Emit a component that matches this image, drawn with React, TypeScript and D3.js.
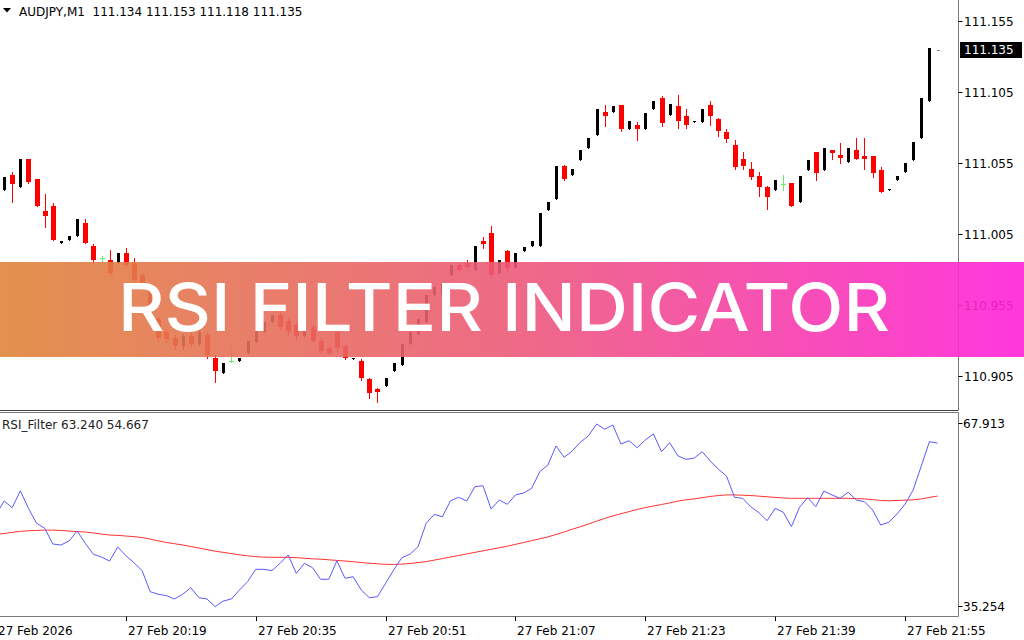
import React from "react";
import * as d3 from "d3";

// ---------- DATA ----------
const symbolHeader = "AUDJPY,M1  111.134 111.153 111.118 111.135";
const indicatorHeader = "RSI_Filter 63.240 54.667";
const currentPrice = 111.135;

// one-minute bars, 20:03 .. 21:59
const barTimes: string[] = d3
  .timeMinute.range(new Date(2026, 1, 27, 20, 3), new Date(2026, 1, 27, 22, 0))
  .map((d) => d3.timeFormat("%H:%M")(d));

const open = [
  111.040,
  111.036, 111.047, 111.038, 111.058, 111.044, 111.021, 111.025, 110.999, 111.001, 111.004,
  111.013, 110.997, 110.988, 110.987, 110.985, 110.992, 110.985, 110.976, 110.969, 110.945,
  110.936, 110.932, 110.926, 110.933, 110.928, 110.934, 110.918, 110.907, 110.916, 110.916,
  110.921, 110.929, 110.936, 110.943, 110.948, 110.944, 110.941, 110.933, 110.940, 110.930,
  110.925, 110.936, 110.926, 110.917, 110.916, 110.903, 110.896, 110.898, 110.909, 110.913,
  110.928, 110.935, 110.943, 110.962, 110.962, 110.976, 110.983, 110.985, 110.980, 111.000,
  111.006, 110.978, 110.993, 110.981, 110.993, 110.997, 110.997, 111.022, 111.030, 111.053,
  111.047, 111.057, 111.066, 111.075, 111.091, 111.091, 111.096, 111.079, 111.082, 111.079,
  111.093, 111.101, 111.089, 111.095, 111.088, 111.084, 111.084, 111.096, 111.086, 111.077,
  111.068, 111.058, 111.051, 111.046, 111.038, 111.036, 111.040, 111.041, 111.028, 111.050,
  111.063, 111.050, 111.064, 111.061, 111.056, 111.064, 111.060, 111.060, 111.050, 111.036,
  111.043, 111.049, 111.057, 111.073, 111.099, 111.134,
];
const high = [
  111.042,
  111.045, 111.049, 111.058, 111.058, 111.044, 111.033, 111.027, 111.000, 111.004, 111.016,
  111.016, 110.998, 110.990, 110.994, 110.992, 110.995, 110.988, 110.978, 110.970, 110.947,
  110.938, 110.934, 110.935, 110.936, 110.938, 110.936, 110.920, 110.914, 110.925, 110.918,
  110.930, 110.937, 110.943, 110.948, 110.950, 110.946, 110.943, 110.940, 110.941, 110.932,
  110.927, 110.938, 110.928, 110.918, 110.917, 110.904, 110.897, 110.904, 110.914, 110.928,
  110.936, 110.945, 110.962, 110.968, 110.970, 110.983, 110.985, 110.987, 110.997, 111.003,
  111.011, 110.987, 110.994, 110.992, 110.996, 111.000, 111.020, 111.028, 111.053, 111.054,
  111.051, 111.064, 111.073, 111.093, 111.096, 111.095, 111.096, 111.085, 111.084, 111.090,
  111.099, 111.102, 111.097, 111.103, 111.093, 111.085, 111.093, 111.099, 111.087, 111.079,
  111.071, 111.063, 111.056, 111.049, 111.039, 111.043, 111.047, 111.041, 111.046, 111.057,
  111.063, 111.066, 111.064, 111.069, 111.066, 111.073, 111.073, 111.060, 111.052, 111.037,
  111.046, 111.055, 111.070, 111.101, 111.136, 111.135,
];
const low = [
  111.034,
  111.036, 111.028, 111.038, 111.041, 111.025, 111.010, 111.001, 110.999, 111.001, 111.004,
  110.999, 110.985, 110.986, 110.976, 110.985, 110.982, 110.971, 110.967, 110.950, 110.930,
  110.929, 110.924, 110.924, 110.926, 110.927, 110.918, 110.901, 110.907, 110.915, 110.916,
  110.921, 110.929, 110.936, 110.943, 110.938, 110.935, 110.931, 110.933, 110.929, 110.921,
  110.920, 110.923, 110.917, 110.917, 110.902, 110.890, 110.887, 110.898, 110.909, 110.913,
  110.928, 110.935, 110.943, 110.962, 110.962, 110.976, 110.979, 110.981, 110.980, 110.995,
  110.975, 110.978, 110.979, 110.981, 110.993, 110.997, 110.997, 111.022, 111.030, 111.043,
  111.047, 111.057, 111.066, 111.075, 111.081, 111.091, 111.078, 111.079, 111.071, 111.079,
  111.093, 111.081, 111.089, 111.080, 111.080, 111.084, 111.084, 111.082, 111.074, 111.070,
  111.051, 111.051, 111.044, 111.032, 111.023, 111.036, 111.036, 111.025, 111.028, 111.050,
  111.043, 111.050, 111.058, 111.055, 111.056, 111.058, 111.051, 111.045, 111.035, 111.036,
  111.043, 111.049, 111.057, 111.073, 111.099, 111.134,
];
const close = [
  111.036,
  111.045, 111.040, 111.058, 111.042, 111.025, 111.018, 111.001, 111.000, 111.004, 111.016,
  110.999, 110.987, 110.988, 110.978, 110.992, 110.983, 110.973, 110.969, 110.952, 110.932,
  110.931, 110.926, 110.933, 110.928, 110.936, 110.920, 110.909, 110.914, 110.916, 110.918,
  110.930, 110.937, 110.943, 110.948, 110.940, 110.937, 110.933, 110.940, 110.930, 110.923,
  110.921, 110.925, 110.918, 110.918, 110.904, 110.893, 110.894, 110.904, 110.914, 110.928,
  110.936, 110.945, 110.962, 110.968, 110.970, 110.983, 110.980, 110.982, 110.997, 110.998,
  110.976, 110.987, 110.981, 110.992, 110.996, 111.000, 111.020, 111.028, 111.053, 111.044,
  111.051, 111.064, 111.073, 111.093, 111.088, 111.095, 111.079, 111.085, 111.079, 111.090,
  111.099, 111.083, 111.097, 111.085, 111.082, 111.085, 111.093, 111.088, 111.078, 111.072,
  111.052, 111.053, 111.045, 111.038, 111.031, 111.043, 111.040, 111.025, 111.046, 111.057,
  111.048, 111.066, 111.062, 111.059, 111.066, 111.058, 111.058, 111.048, 111.035, 111.037,
  111.046, 111.055, 111.070, 111.101, 111.136, 111.135,
];

const rsiValues = [
  51.63,
  53.87, 52.78, 55.53, 52.68, 50.26, 49.45, 46.91, 46.74, 47.39, 49.01,
  47.02, 45.24, 44.80, 44.15, 46.42, 45.01, 43.88, 42.59, 39.19, 38.77,
  38.54, 38.01, 38.77, 39.83, 38.22, 38.01, 36.76, 37.68, 38.01, 39.46,
  40.81, 42.81, 42.81, 42.59, 43.78, 45.13, 42.16, 43.78, 43.07, 41.19,
  41.19, 44.20, 41.36, 41.61, 39.46, 38.22, 38.38, 40.55, 42.70, 44.69,
  45.24, 46.47, 50.26, 51.71, 51.32, 53.91, 54.46, 53.87, 56.18, 56.34,
  52.57, 54.03, 53.33, 54.84, 55.16, 55.92, 58.61, 59.69, 62.77, 60.94,
  61.96, 63.37, 64.43, 66.33, 65.47, 66.17, 63.09, 63.62, 62.49, 63.74,
  64.71, 61.84, 63.30, 61.20, 60.61, 60.78, 61.84, 60.34, 59.00, 57.91,
  54.46, 54.30, 52.94, 51.97, 50.68, 52.68, 52.04, 49.71, 52.85, 54.40,
  52.94, 55.48, 54.84, 54.30, 55.27, 54.03, 53.75, 52.41, 49.98, 50.42,
  51.76, 53.33, 55.65, 59.53, 63.46, 63.24,
];
const rsiSignal = [
  48.45,
  48.6, 48.8, 48.95, 49.05, 49.1, 49.15, 49.15, 49.1, 49.0, 48.9,
  48.85, 48.7, 48.5, 48.36, 48.3, 48.2, 48.1, 47.95, 47.7, 47.4,
  47.15, 46.95, 46.75, 46.5, 46.25, 46.0, 45.75, 45.55, 45.35, 45.15,
  45.0, 44.85, 44.78, 44.75, 44.75, 44.75, 44.7, 44.6, 44.5, 44.45,
  44.35, 44.25, 44.15, 44.05, 43.9, 43.8, 43.7, 43.62, 43.6, 43.65,
  43.75, 43.9, 44.05, 44.3, 44.55, 44.8, 45.05, 45.3, 45.55, 45.8,
  46.05, 46.3, 46.55, 46.85, 47.15, 47.45, 47.75, 48.05, 48.45, 48.85,
  49.3, 49.7, 50.15, 50.6, 51.05, 51.45, 51.8, 52.15, 52.5, 52.8,
  53.05, 53.3, 53.55, 53.85, 54.05, 54.2, 54.4, 54.6, 54.75, 54.85,
  54.85, 54.8, 54.75, 54.65, 54.55, 54.45, 54.35, 54.3, 54.3, 54.3,
  54.3, 54.3, 54.3, 54.3, 54.3, 54.25, 54.2, 54.1, 53.95, 53.9,
  53.95, 54.0, 54.05, 54.2, 54.45, 54.667,
];

const priceTicks = [111.155, 111.105, 111.055, 111.005, 110.955, 110.905];
const rsiTicks = [67.913, 35.254];
const timeTickBars = ["20:03", "20:19", "20:35", "20:51", "21:07", "21:23", "21:39", "21:55"];
const timeTickLabels = [
  "27 Feb 2026", "27 Feb 20:19", "27 Feb 20:35", "27 Feb 20:51",
  "27 Feb 21:07", "27 Feb 21:23", "27 Feb 21:39", "27 Feb 21:55",
];
const bannerText = "RSI FILTER INDICATOR";

// ---------- CHART ----------
const W = 1024;
const H = 640;
const AXIS_X = 958.5;
const FONT = "'DejaVu Sans', Verdana, sans-serif";

export default function App() {
  const n = open.length;
  const x = d3.scaleLinear().domain([0, n - 1]).range([-4, 937.5]);
  const yP = d3.scaleLinear().domain([110.905, 111.155]).range([376.2, 21.2]);
  const yR = d3.scaleLinear().domain([35.254, 67.913]).range([616, 414.2]);

  const rsiLine = d3
    .line<number>()
    .x((_, i) => x(i))
    .y((d) => yR(d));

  const candles = d3.range(n).map((i) => {
    const cx = Math.round(x(i));
    const o = open[i], h = high[i], l = low[i], c = close[i];
    const yH = Math.round(yP(h));
    const yL = Math.round(yP(l));
    const yO = Math.round(yP(o));
    const yC = Math.round(yP(c));
    const last = i === n - 1;
    if (last) {
      return (
        <rect key={i} x={cx - 1} y={yC} width={3} height={1} fill="#8c8c8c" />
      );
    }
    if (o === c) {
      return (
        <g key={i}>
          <line x1={cx + 0.5} x2={cx + 0.5} y1={yH} y2={yL + 1} stroke="#66ee66" strokeWidth={1} />
          <rect x={cx - 2} y={yO} width={5} height={1} fill="#66ee66" />
        </g>
      );
    }
    const bull = c > o;
    const top = Math.min(yO, yC);
    const bh = Math.max(1, Math.abs(yO - yC));
    const color = bull ? "#000000" : "#ff0000";
    return (
      <g key={i}>
        <line x1={cx + 0.5} x2={cx + 0.5} y1={yH} y2={yL + 1} stroke={color} strokeWidth={1} />
        <rect
          x={bull ? cx - 1 : cx - 2}
          y={top}
          width={bull ? 3 : 5}
          height={bh}
          fill={color}
        />
      </g>
    );
  });

  return (
    <svg
      width={W}
      height={H}
      viewBox={`0 0 ${W} ${H}`}
      style={{ position: "absolute", left: 0, top: 0, background: "#fff" }}
      fontFamily={FONT}
    >
      <defs>
        <clipPath id="mainClip">
          <rect x={0} y={0} width={AXIS_X} height={410} />
        </clipPath>
        <clipPath id="subClip">
          <rect x={0} y={413} width={AXIS_X} height={203} />
        </clipPath>
        <linearGradient id="bannerGrad" x1="0" x2="1" y1="0" y2="0">
          <stop offset="0" stopColor="#e0853a" />
          <stop offset="0.5" stopColor="#ec5a78" />
          <stop offset="1" stopColor="#ff22da" />
        </linearGradient>
      </defs>
      <rect x={0} y={0} width={W} height={H} fill="#ffffff" />

      {/* header */}
      <path d="M3,8 L11,8 L7,12.5 Z" fill="#000" />
      <text x={19} y={16} fontSize={12} fill="#000" xmlSpace="preserve">
        {symbolHeader}
      </text>

      {/* candles */}
      <g clipPath="url(#mainClip)">{candles}</g>

      {/* price axis */}
      <line x1={AXIS_X} x2={AXIS_X} y1={0} y2={410} stroke="#7a7a7a" />
      {priceTicks.map((p) => (
        <g key={p}>
          <line x1={AXIS_X} x2={AXIS_X + 4} y1={Math.round(yP(p)) + 0.5} y2={Math.round(yP(p)) + 0.5} stroke="#000" />
          <text x={964} y={yP(p) + 4.5} fontSize={12} fill="#000">
            {p.toFixed(3)}
          </text>
        </g>
      ))}
      <rect x={960} y={Math.round(yP(currentPrice)) - 8} width={62} height={16} fill="#000" />
      <text x={964} y={yP(currentPrice) + 4.5} fontSize={12} fill="#fff">
        {currentPrice.toFixed(3)}
      </text>

      {/* separators */}
      <line x1={0} x2={AXIS_X} y1={410.5} y2={410.5} stroke="#404040" />
      <line x1={0} x2={AXIS_X} y1={412.5} y2={412.5} stroke="#7a7a7a" />

      {/* RSI panel */}
      <text x={2} y={428.5} fontSize={12} fill="#222">
        {indicatorHeader}
      </text>
      <g clipPath="url(#subClip)">
        <path d={rsiLine(rsiSignal) ?? ""} fill="none" stroke="#ff3030" strokeWidth={1} />
        <path d={rsiLine(rsiValues) ?? ""} fill="none" stroke="#5a5aff" strokeWidth={1} />
      </g>
      <line x1={AXIS_X} x2={AXIS_X} y1={412.5} y2={616.5} stroke="#7a7a7a" />
      <line x1={0} x2={AXIS_X} y1={616.5} y2={616.5} stroke="#7a7a7a" />
      <text x={963} y={428} fontSize={12} fill="#000">{rsiTicks[0].toFixed(3)}</text>
      <text x={963} y={611} fontSize={12} fill="#000">{rsiTicks[1].toFixed(3)}</text>
      <line x1={AXIS_X} x2={AXIS_X + 4} y1={423.5} y2={423.5} stroke="#000" />
      <line x1={AXIS_X} x2={AXIS_X + 4} y1={606.5} y2={606.5} stroke="#000" />

      {/* time axis */}
      {timeTickBars.map((t, j) => {
        const tx = Math.round(x(barTimes.indexOf(t))) + 0.5;
        return (
          <g key={t}>
            <line x1={tx} x2={tx} y1={616.5} y2={621} stroke="#000" />
            <text x={tx + 1.5} y={635} fontSize={12} fill="#000">
              {timeTickLabels[j]}
            </text>
          </g>
        );
      })}

      {/* banner */}
      <rect x={0} y={262} width={W} height={95} fill="url(#bannerGrad)" opacity={0.9} />
      <text
        x={118}
        y={330.5}
        fontSize={66}
        fontFamily="Inter, 'Open Sans', sans-serif"
        fontWeight={500}
        fill="#ffffff"
        textLength={772}
        lengthAdjust="spacingAndGlyphs"
      >
        {bannerText}
      </text>
    </svg>
  );
}
